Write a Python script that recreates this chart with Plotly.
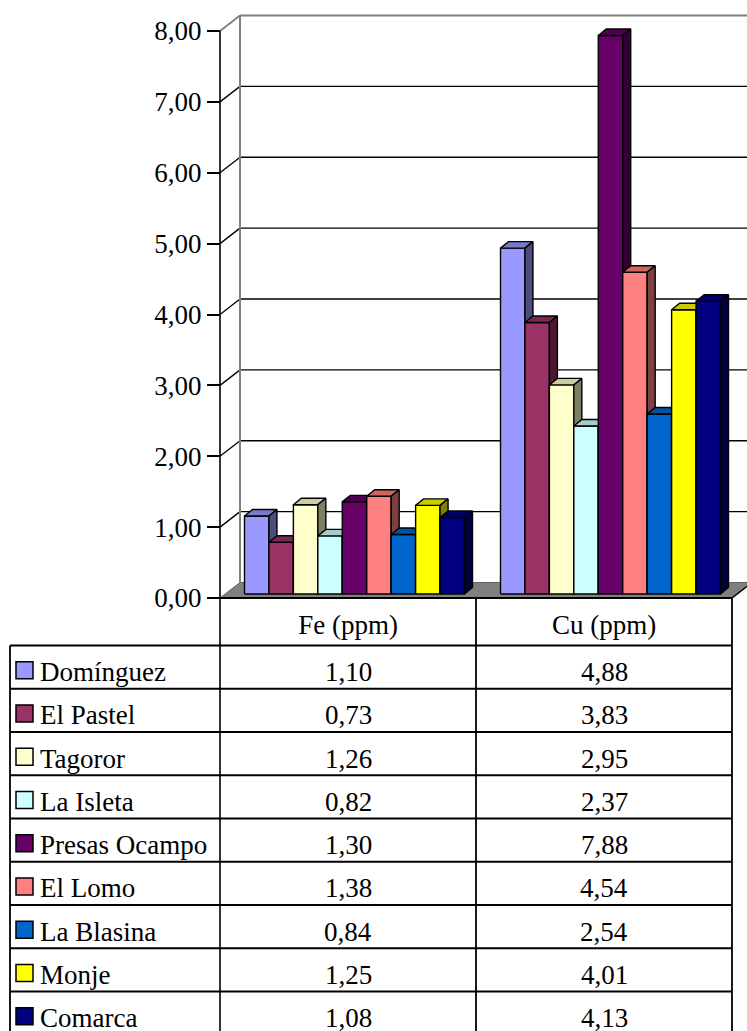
import plotly.graph_objects as go

# ---------------- data ----------------
sites = ["Domínguez", "El Pastel", "Tagoror", "La Isleta", "Presas Ocampo",
         "El Lomo", "La Blasina", "Monje", "Comarca"]
categories = ["Fe (ppm)", "Cu (ppm)"]
fe_values = [1.10, 0.73, 1.26, 0.82, 1.30, 1.38, 0.84, 1.25, 1.08]
cu_values = [4.88, 3.83, 2.95, 2.37, 7.88, 4.54, 2.54, 4.01, 4.13]
y_ticks = [0, 1, 2, 3, 4, 5, 6, 7, 8]

front_colors = ["#9999FF", "#993366", "#FFFFCC", "#CCFFFF", "#660066",
                "#FF8080", "#0066CC", "#FFFF00", "#000080"]

# ---------------- geometry (pixel mapping) ----------------
W, H = 747, 1031
PXX = 256.0          # px per category unit
PXY = 567.0 / 8      # px per value unit
X0PX, Y0PX = 220, 598


def X(px):
    return (px - X0PX) / PXX - 0.5


def Y(py):
    return (Y0PX - py) / PXY


def px_(px):
    return px / W


def py_(py):
    return 1 - py / H


def shade(hexc, f):
    h = hexc.lstrip("#")
    r, g, b = (int(h[i:i + 2], 16) for i in (0, 2, 4))
    return "rgb(%d,%d,%d)" % (r * f, g * f, b * f)


WALL_DX = 20 / PXX
WALL_DY = 15.5 / PXY
BAR_BASE = 4 / PXY
BAR_DX = 8 / PXX
BAR_DY = 6.5 / PXY
GROUP_LEFT = -103.5 / PXX
BAR_W = 220.0 / 9 / PXX

fig = go.Figure()

series_vals = [fe_values, cu_values]
for i, name in enumerate(sites):
    fx, fy, tx, ty, sx, sy = [], [], [], [], [], []
    for c in range(len(categories)):
        v = series_vals[c][i]
        L = c + GROUP_LEFT + i * BAR_W
        R = L + BAR_W
        b = BAR_BASE
        t = b + v
        fx += [L, R, R, L, L, None]
        fy += [b, b, t, t, b, None]
        tx += [L, R, R + BAR_DX, L + BAR_DX, L, None]
        ty += [t, t, t + BAR_DY, t + BAR_DY, t, None]
        sx += [R, R + BAR_DX, R + BAR_DX, R, R, None]
        sy += [b, b + BAR_DY, t + BAR_DY, t, b, None]
    for xs, ys, col in ((fx, fy, front_colors[i]),
                        (tx, ty, shade(front_colors[i], 0.8)),
                        (sx, sy, shade(front_colors[i], 0.5))):
        fig.add_trace(go.Scatter(x=xs, y=ys, mode="lines", fill="toself",
                                 fillcolor=col, name=name,
                                 line=dict(color="black", width=1.4),
                                 hoverinfo="skip", showlegend=False))

shapes = []
# floor
shapes.append(dict(type="path", xref="x", yref="y", layer="below",
                   path="M %f %f L %f %f L %f %f L %f %f Z" % (
                       X(220), 0, X(732), 0, X(732) + WALL_DX, WALL_DY,
                       X(220) + WALL_DX, WALL_DY),
                   fillcolor="#808080", line=dict(color="#606060", width=1)))
shapes.append(dict(type="line", xref="x", yref="y", layer="below",
                   x0=X(732), y0=0, x1=X(732) + WALL_DX, y1=WALL_DY,
                   line=dict(color="black", width=1.5)))
# back wall grid and side-wall diagonals
for v in y_ticks[1:]:
    col = "#808080" if v == y_ticks[-1] else "black"
    wid = 2 if v == y_ticks[-1] else 1.3
    shapes.append(dict(type="line", xref="x", yref="y", layer="below",
                       x0=X(220) + WALL_DX, y0=v + WALL_DY, x1=X(760), y1=v + WALL_DY,
                       line=dict(color=col, width=wid)))
    shapes.append(dict(type="line", xref="x", yref="y", layer="below",
                       x0=X(220), y0=v, x1=X(220) + WALL_DX, y1=v + WALL_DY,
                       line=dict(color=col, width=wid)))
# back wall left edge
shapes.append(dict(type="line", xref="x", yref="y", layer="below",
                   x0=X(220) + WALL_DX, y0=WALL_DY, x1=X(220) + WALL_DX,
                   y1=y_ticks[-1] + WALL_DY, line=dict(color="#808080", width=2)))
# front value axis + table column line
shapes.append(dict(type="line", xref="x", yref="y", layer="above",
                   x0=X(220), y0=y_ticks[-1], x1=X(220), y1=Y(H + 5),
                   line=dict(color="black", width=1.6)))

# ---------------- data table ----------------
HDR_BOT = 645.5
ROW_H = 43.25
TL = 1.8
shapes.append(dict(type="line", xref="paper", yref="paper", layer="above",
                   x0=px_(220), y0=py_(598), x1=px_(732), y1=py_(598),
                   line=dict(color="black", width=TL)))
for k in range(len(sites)):
    yy = HDR_BOT + k * ROW_H
    shapes.append(dict(type="line", xref="paper", yref="paper", layer="above",
                       x0=px_(10), y0=py_(yy), x1=px_(732), y1=py_(yy),
                       line=dict(color="black", width=TL)))
for xx, ytop in ((10, HDR_BOT), (476, 598), (732, 598)):
    shapes.append(dict(type="line", xref="paper", yref="paper", layer="above",
                       x0=px_(xx), y0=py_(ytop), x1=px_(xx), y1=py_(H + 5),
                       line=dict(color="black", width=TL)))

FONT = dict(family="Liberation Serif, Times New Roman, serif", size=27, color="black")
annotations = []
col_centers = [348, 604]
for k, name in enumerate(sites):
    yc = HDR_BOT + k * ROW_H + ROW_H / 2 + 3
    shapes.append(dict(type="rect", xref="paper", yref="paper", layer="above",
                       x0=px_(16), y0=py_(yc - 8.5), x1=px_(33), y1=py_(yc + 8.5),
                       fillcolor=front_colors[k], line=dict(color="black", width=1.5)))
    annotations.append(dict(xref="paper", yref="paper", x=px_(38), y=py_(yc + 2),
                            text=name, showarrow=False, xanchor="left",
                            yanchor="middle", font=FONT))
    for c in range(len(categories)):
        txt = ("%.2f" % series_vals[c][k]).replace(".", ",")
        annotations.append(dict(xref="paper", yref="paper", x=px_(col_centers[c]),
                                y=py_(yc + 2), text=txt, showarrow=False,
                                xanchor="center", yanchor="middle", font=FONT))

fig.update_layout(
    width=W, height=H,
    margin=dict(l=0, r=0, t=0, b=0),
    paper_bgcolor="white", plot_bgcolor="white",
    separators=",.",
    font=FONT,
    showlegend=False,
    shapes=shapes,
    annotations=annotations,
    xaxis=dict(domain=[0, 1], range=[X(0), X(W)], anchor="free",
               position=1 - Y0PX / H, tickvals=[0, 1], ticktext=categories,
               ticks="", showline=False, showgrid=False, zeroline=False,
               ticklabelstandoff=8,
               tickfont=FONT, fixedrange=True),
    yaxis=dict(domain=[0, 1], range=[Y(H), Y(0)], anchor="free",
               position=X0PX / W, tickvals=y_ticks, tickformat=".2f",
               ticks="outside", ticklen=13, tickwidth=1.6, tickcolor="black",
               showline=False, showgrid=False, zeroline=False,
               tickfont=FONT, fixedrange=True),
)

fig.write_html("out.html", config={"displayModeBar": False},
               post_script="document.body.style.margin='0';document.body.style.overflow='hidden';")
